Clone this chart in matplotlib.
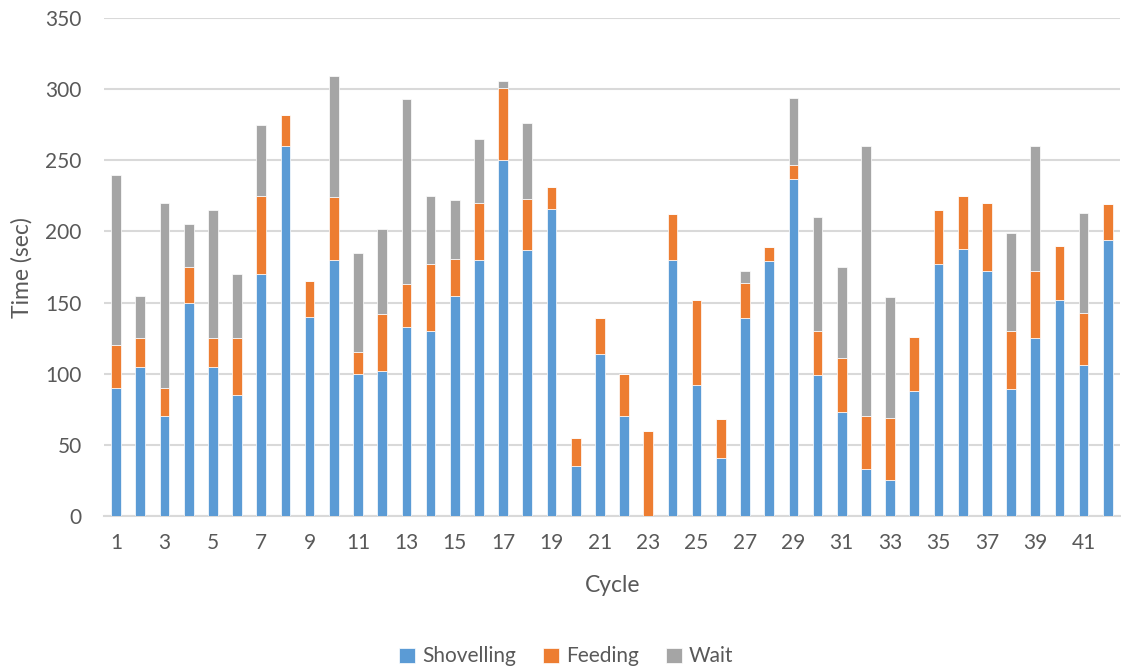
import numpy as np
import matplotlib.pyplot as plt

plt.rcParams['font.family'] = ['Lato', 'DejaVu Sans']

cycles = np.arange(1, 43)
shovelling = [90, 105, 70, 150, 105, 85, 170, 260, 140, 180,
              100, 102, 133, 130, 155, 180, 250, 187, 216, 35,
              114, 70, 0, 180, 92, 41, 139, 179, 237, 99,
              73, 33, 25, 88, 177, 188, 172, 89, 125, 152,
              106, 194]
feeding = [30, 20, 20, 25, 20, 40, 55, 22, 25, 44,
           15, 40, 30, 47, 26, 40, 51, 36, 15, 20,
           25, 30, 60, 32, 60, 27, 25, 10, 10, 31,
           38, 37, 44, 38, 38, 37, 48, 41, 47, 38,
           37, 25]
wait = [120, 30, 130, 30, 90, 45, 50, 0, 0, 85,
        70, 60, 130, 48, 41, 45, 5, 53, 0, 0,
        0, 0, 0, 0, 0, 0, 8, 0, 47, 80,
        64, 190, 85, 0, 0, 0, 0, 69, 88, 0,
        70, 0]

colors = {'Shovelling': '#5B9BD5', 'Feeding': '#ED7D31', 'Wait': '#A5A5A5'}
text_color = '#595959'
grid_color = '#D9D9D9'

fig = plt.figure(figsize=(11.21, 6.71), dpi=100)
ax = fig.add_axes([0.0928, 0.231, 0.9062, 0.742])

s = np.array(shovelling)
f = np.array(feeding)
w = np.array(wait)
width = 0.4
kw = dict(width=width, edgecolor='white', linewidth=0.5, zorder=3)
ax.bar(cycles, s, color=colors['Shovelling'], label='Shovelling', **kw)
ax.bar(cycles, f, bottom=s, color=colors['Feeding'], label='Feeding', **kw)
ax.bar(cycles, w, bottom=s + f, color=colors['Wait'], label='Wait', **kw)

ax.set_xlim(0.5, 42.5)
ax.set_ylim(0, 350)
ax.set_yticks(np.arange(0, 351, 50))
ax.set_xticks(cycles[::2])
ax.yaxis.grid(True, color=grid_color, linewidth=1.5, zorder=0)
ax.set_axisbelow(True)

for side in ['top', 'right', 'left']:
    ax.spines[side].set_visible(False)
ax.spines['bottom'].set_color(grid_color)
ax.spines['bottom'].set_linewidth(1.5)
ax.tick_params(axis='both', length=0, labelsize=15, labelcolor=text_color)
ax.tick_params(axis='y', pad=16)
ax.tick_params(axis='x', pad=12)

ax.set_xlabel('Cycle', fontsize=16.5, color=text_color, va='center')
ax.xaxis.set_label_coords(0.501, -0.139)
ax.set_ylabel('Time (sec)', fontsize=16.5, color=text_color, va='center')
ax.yaxis.set_label_coords(-0.081, 0.498)

ax.legend(loc='center', bbox_to_anchor=(0.455, -0.282), ncol=3, frameon=False,
          fontsize=15, labelcolor=text_color, handlelength=0.75, handleheight=0.75,
          handletextpad=0.35, columnspacing=1.3)

fig.savefig('out.png', dpi=100)
